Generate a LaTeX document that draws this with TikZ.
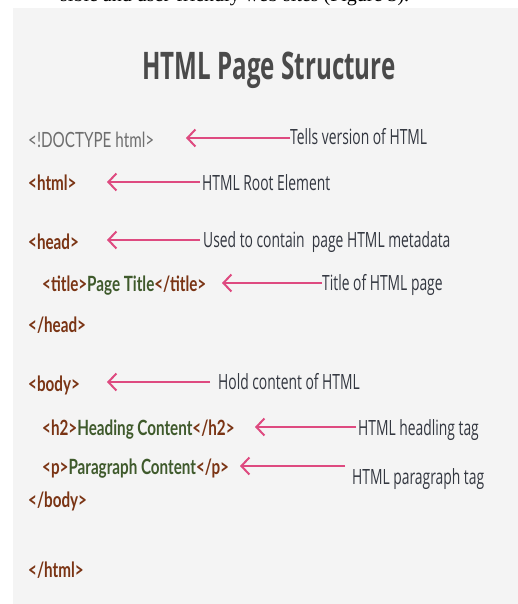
\documentclass[tikz,border=0pt]{standalone}
\usepackage{fontspec}
\usetikzlibrary{arrows.meta}
\setmainfont{Liberation Serif}
\newfontfamily\codefont[FakeStretch=0.725]{Lato}
\newfontfamily\notefont[FakeStretch=0.66]{Open Sans}
\newfontfamily\headfont[FakeStretch=0.635]{Open Sans}
\definecolor{panel}{HTML}{F4F4F4}
\definecolor{tagc}{HTML}{7A3414}
\definecolor{txtc}{HTML}{3F5A2C}
\definecolor{doct}{HTML}{6E6E6E}
\definecolor{notec}{HTML}{333740}
\definecolor{arrc}{HTML}{DE4A80}
\definecolor{headc}{HTML}{4A4A4A}
\newcommand{\tg}[1]{\textcolor{tagc}{#1}}
\newcommand{\tx}[1]{\textcolor{txtc}{#1}}
\tikzset{
  codeline/.style={anchor=base west, inner sep=0pt, text=tagc,
    font=\codefont\bfseries\fontsize{21}{21}\selectfont},
  note/.style={anchor=base west, inner sep=0pt, text=notec,
    font=\notefont\fontsize{21}{21}\selectfont},
  pointer/.style={arrc, line width=2.2pt,
    -{Straight Barb[length=8pt,width=17pt,line width=2pt]}},
}
\begin{document}
\begin{tikzpicture}[x=1pt,y=-1pt]
\useasboundingbox (0,0) rectangle (518,604);
% page and grey panel
\fill[white] (0,0) rectangle (518,604);
\fill[panel] (13,8) rectangle (518,604);
% running text line above the panel, cut by the page edge
\begin{scope}
  \clip (0,0) rectangle (518,8);
  \node[anchor=base west, inner sep=0pt, font=\fontsize{20}{20}\selectfont]
    (prev) at (60,2) {sible and user-friendly web sites (Figure 3).};
\end{scope}
% heading
\node[anchor=base, inner sep=0pt, text=headc,
  font=\headfont\bfseries\fontsize{38}{38}\selectfont] (head) at (269,80)
  {HTML Page Structure};
% code lines
\node[codeline, text=doct, font=\codefont\fontsize{21}{21}\selectfont]
  (c1) at (28,148) {<!DOCTYPE html>};
\node[codeline] (c2) at (28,190) {<html>};
\node[codeline] (c3) at (28,249) {<head>};
\node[codeline] (c4) at (42,291) {\tg{<title>}\tx{Page Title}\tg{</title>}};
\node[codeline] (c5) at (28,332) {</head>};
\node[codeline] (c6) at (28,391) {<body>};
\node[codeline] (c7) at (42,435) {\tg{<h2>}\tx{Heading Content}\tg{</h2>}};
\node[codeline] (c8) at (42,474) {\tg{<p>}\tx{Paragraph Content}\tg{</p>}};
\node[codeline] (c9) at (28,507) {</body>};
\node[codeline] (c10) at (28,577) {</html>};
% explanations
\node[note] (n1) at (290,145) {Tells version of HTML};
\node[note] (n2) at (202,190) {HTML Root Element};
\node[note] (n3) at (203,247) {Used to contain\ \ page HTML metadata};
\node[note] (n4) at (322,290) {Title of HTML page};
\node[note] (n6) at (218,389) {Hold content of HTML};
\node[note] (n7) at (358,435) {HTML headling tag};
\node[note] (n8) at (352,484) {HTML paragraph tag};
% arrow tips next to the code
\coordinate (t1) at (186,138);
\coordinate (t2) at (107,182);
\coordinate (t3) at (107,240);
\coordinate (t4) at (222,283);
\coordinate (t6) at (107,382);
\coordinate (t7) at (255,427);
\coordinate (t8) at (240,466);
\draw[pointer] (n1.west |- t1) -- (t1);
\draw[pointer] ([xshift=-2pt]n2.west |- t2) -- (t2);
\draw[pointer] ([xshift=-3pt]n3.west |- t3) -- (t3);
\draw[pointer] (n4.west |- t4) -- (t4);
\draw[pointer] ([xshift=-8pt]n6.west |- t6) -- (t6);
\draw[pointer] ([xshift=-2pt]n7.west |- t7) -- (t7);
\draw[pointer] ([xshift=-7pt]n8.west |- t8) -- (t8);
\end{tikzpicture}
\end{document}
